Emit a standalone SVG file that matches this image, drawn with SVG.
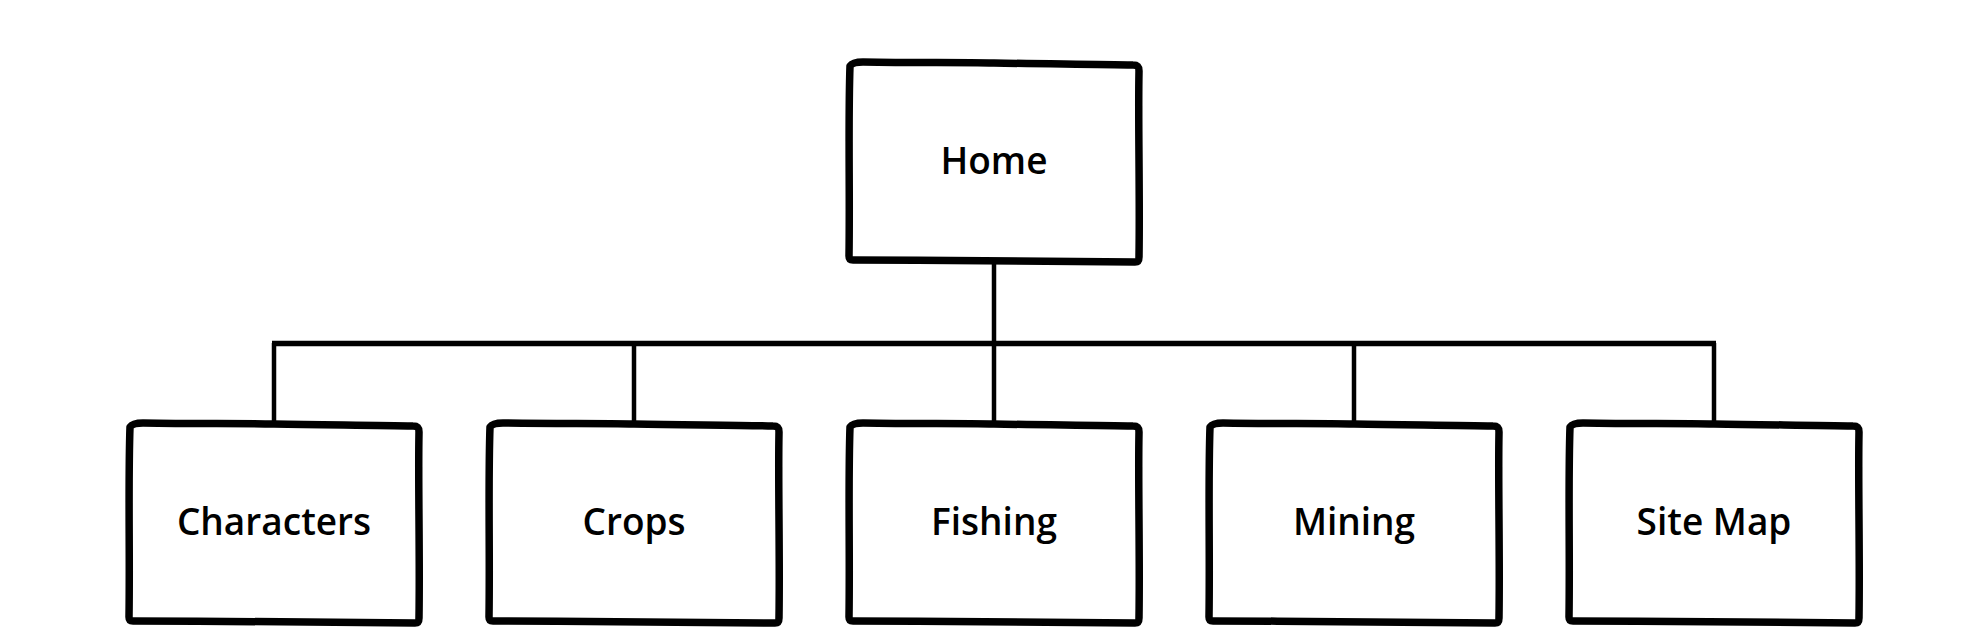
<svg xmlns="http://www.w3.org/2000/svg" width="1972" height="644" viewBox="0 0 1972 644">
<style>
.box{fill:#fff;stroke:#000;stroke-width:7.5;stroke-linejoin:round;stroke-linecap:round}
.conn{fill:none;stroke:#000;stroke-width:4.5;stroke-linecap:butt}
.lbl{font-family:"Open Sans","Noto Sans","Liberation Sans",sans-serif;font-size:37px;font-weight:600;fill:#000;text-anchor:middle}
</style>
<defs>
<path id="sk" d="M 1,3 C 3,0 8,-1 14,-1 C 70,0 110,-1 145,0 C 200,1 250,1 284,2 C 289,2 290,4 290,8 C 289,60 291,130 290,194 C 290,197 289,199 286,199 C 200,198 100,197 4,197 C 1,197 0,196 0,193 C 1,130 -1,60 1,3 Z"/>
</defs>
<g id="connectors">
<path class="conn" d="M 994,262 V 344"/>
<path class="conn" d="M 272,343.5 H 1716" style="stroke-width:5.5"/>
<path class="conn" d="M 274,343 V 421"/>
<path class="conn" d="M 634,343 V 421"/>
<path class="conn" d="M 994,343 V 421"/>
<path class="conn" d="M 1354,343 V 421"/>
<path class="conn" d="M 1714,343 V 421"/>
</g>
<g id="home">
<use href="#sk" class="box" transform="translate(849,63)"/>
<text class="lbl" x="994" y="174">Home</text>
</g>
<g id="characters">
<use href="#sk" class="box" transform="translate(129,424)"/>
<text class="lbl" x="274" y="535">Characters</text>
</g>
<g id="crops">
<use href="#sk" class="box" transform="translate(489,424)"/>
<text class="lbl" x="634" y="535">Crops</text>
</g>
<g id="fishing">
<use href="#sk" class="box" transform="translate(849,424)"/>
<text class="lbl" x="994" y="535">Fishing</text>
</g>
<g id="mining">
<use href="#sk" class="box" transform="translate(1209,424)"/>
<text class="lbl" x="1354" y="535">Mining</text>
</g>
<g id="sitemap">
<use href="#sk" class="box" transform="translate(1569,424)"/>
<text class="lbl" x="1714" y="535">Site Map</text>
</g>
</svg>
